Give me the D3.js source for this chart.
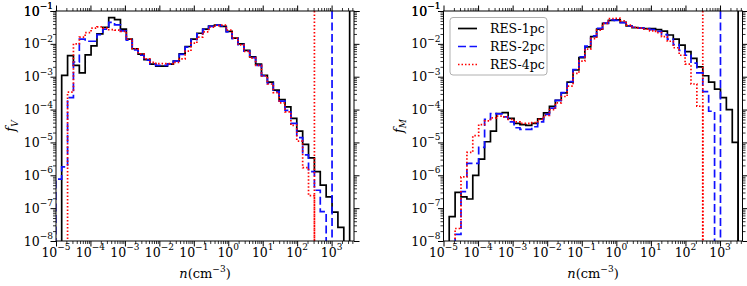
<!DOCTYPE html>
<html>
<head>
<meta charset="utf-8">
<script src="https://cdn.jsdelivr.net/npm/d3@7"></script>
<style>
  body { margin: 0; background: #fff; }
  svg { display: block; }
  text { font-family: "DejaVu Serif", serif; fill: #000; }
</style>
</head>
<body>
<svg id="chart" width="747" height="286"></svg>
<script>
// histogram bin edges, log10(n / cm^-3)
const logNEdges = [-5.006, -4.835, -4.664, -4.494, -4.323, -4.153, -3.982, -3.811, -3.641, -3.470,
  -3.300, -3.129, -2.958, -2.788, -2.617, -2.447, -2.276, -2.105, -1.935, -1.764,
  -1.594, -1.423, -1.252, -1.082, -0.911, -0.741, -0.570, -0.399, -0.229, -0.058,
  0.112, 0.283, 0.454, 0.624, 0.795, 0.965, 1.136, 1.307, 1.477, 1.648,
  1.818, 1.989, 2.160, 2.330, 2.501, 2.671, 2.842, 3.013, 3.183, 3.354, 3.524];

const seriesNames = ["RES-1pc", "RES-2pc", "RES-4pc"];

// volume fraction per bin (null = empty bin)
const fvRes1 = [null, 1.1e-3, 4.4e-3, 2.2e-3, 1.3e-3, 4.6e-3, 8.7e-3, 2.0e-2, 3.2e-2, 6.3e-2,
  5.5e-2, 2.8e-2, 1.4e-2, 7.1e-3, 4.9e-3, 3.3e-3, 2.4e-3, 2.1e-3, 2.1e-3, 2.4e-3,
  3.0e-3, 5.0e-3, 8.3e-3, 1.4e-2, 2.1e-2, 2.8e-2, 3.5e-2, 3.7e-2, 3.4e-2, 2.4e-2,
  1.5e-2, 1.0e-2, 6.3e-3, 4.0e-3, 2.4e-3, 1.1e-3, 6.8e-4, 3.9e-4, 2.0e-4, 1.2e-4,
  5.4e-5, 2.2e-5, 8.7e-6, 3.4e-6, 1.3e-6, 5.0e-7, 2.2e-7, 7.6e-8, 2.6e-8, null];
const fvRes2 = [7.6e-7, 1.8e-6, 2.3e-4, 2.8e-3, 1.4e-2, 1.2e-2, 1.2e-2, 1.9e-2, 2.8e-2, 4.5e-2,
  3.8e-2, 2.5e-2, 1.3e-2, 6.6e-3, 4.5e-3, 3.2e-3, 2.4e-3, 2.2e-3, 2.2e-3, 2.4e-3,
  3.0e-3, 4.8e-3, 7.9e-3, 1.35e-2, 2.0e-2, 2.75e-2, 3.4e-2, 3.7e-2, 3.5e-2, 2.3e-2,
  1.45e-2, 9.5e-3, 6.0e-3, 3.8e-3, 2.2e-3, 1.07e-3, 6.3e-4, 3.5e-4, 1.8e-4, 9.5e-5,
  3.8e-5, 1.4e-5, 4.2e-6, 1.3e-6, 3.5e-7, 7.8e-8, null, null, null, null];
const fvRes4 = [null, null, 3.4e-4, 1.0e-2, 1.6e-2, 2.2e-2, 3.0e-2, 3.3e-2, 3.0e-2, 2.7e-2,
  2.6e-2, 2.4e-2, 1.4e-2, 7.1e-3, 5.0e-3, 3.5e-3, 2.75e-3, 2.5e-3, 2.5e-3, 2.5e-3,
  2.75e-3, 3.5e-3, 6.0e-3, 1.05e-2, 1.6e-2, 2.3e-2, 3.2e-2, 3.6e-2, 3.7e-2, 2.6e-2,
  1.5e-2, 9.3e-3, 5.9e-3, 3.7e-3, 2.2e-3, 1.05e-3, 6.0e-4, 3.3e-4, 1.6e-4, 8.5e-5,
  3.3e-5, 1.1e-5, 1.7e-6, 2.4e-7, null, null, null, null, null, null];

// mass fraction per bin
const fmRes1 = [null, 5.5e-8, 3.0e-7, 2.2e-7, 1.9e-7, 1.0e-6, 3.1e-6, 1.05e-5, 2.2e-5, 7.6e-5,
  8.1e-5, 5.4e-5, 3.8e-5, 3.5e-5, 3.3e-5, 3.8e-5, 5.2e-5, 7.9e-5, 1.26e-4, 1.9e-4,
  3.2e-4, 6.8e-4, 1.6e-3, 3.8e-3, 8.1e-3, 1.66e-2, 2.8e-2, 4.2e-2, 5.2e-2, 5.4e-2,
  4.5e-2, 3.5e-2, 3.1e-2, 3.0e-2, 2.9e-2, 2.9e-2, 2.7e-2, 2.45e-2, 1.86e-2, 1.4e-2,
  9.1e-3, 5.8e-3, 3.6e-3, 2.0e-3, 1.07e-3, 6.8e-4, 4.2e-4, 2.3e-4, 1.0e-4, 1.0e-5];
const fmRes2 = [null, null, 1.6e-8, 3.2e-7, 2.3e-6, 2.3e-6, 7.1e-6, 5.0e-5, 7.6e-5, 7.4e-5,
  6.0e-5, 4.2e-5, 2.8e-5, 2.5e-5, 2.5e-5, 3.0e-5, 4.2e-5, 7.1e-5, 1.1e-4, 1.9e-4,
  3.3e-4, 7.1e-4, 1.66e-3, 4.0e-3, 8.5e-3, 1.74e-2, 2.95e-2, 4.3e-2, 5.4e-2, 5.2e-2,
  4.4e-2, 3.5e-2, 3.2e-2, 3.0e-2, 2.9e-2, 2.7e-2, 2.4e-2, 1.9e-2, 1.4e-2, 9.5e-3,
  6.3e-3, 4.5e-3, 2.6e-3, 1.3e-3, 3.5e-4, 8.9e-5, null, null, null, null];
const fmRes4 = [null, null, 2.4e-8, 8.9e-7, 5.0e-6, 1.6e-5, 3.5e-5, 4.5e-5, 5.6e-5, 6.3e-5,
  6.0e-5, 5.0e-5, 4.2e-5, 3.8e-5, 3.8e-5, 4.0e-5, 5.0e-5, 6.6e-5, 1.0e-4, 1.6e-4,
  2.5e-4, 5.2e-4, 1.26e-3, 3.0e-3, 6.9e-3, 1.45e-2, 2.6e-2, 4.2e-2, 5.9e-2, 6.0e-2,
  5.0e-2, 3.7e-2, 3.2e-2, 3.0e-2, 2.8e-2, 2.5e-2, 2.2e-2, 1.66e-2, 1.2e-2, 7.6e-3,
  4.5e-3, 2.4e-3, 6.0e-4, 1.26e-4, null, null, null, null, null, null];

// maximum density of each run (vertical lines)
const nMax = [3340, 1030, 317];

// tick exponents
const xTickExp = [-5, -4, -3, -2, -1, 0, 1, 2, 3];
const yTickExp = [-8, -7, -6, -5, -4, -3, -2, -1];

const styles = [
  { color: "#000", dash: null },
  { color: "#1010ff", dash: "8,3.5" },
  { color: "#ff0000", dash: "1.5,2" }
];

const svg = d3.select("#chart");
const yTop = 11, yBot = 241;
const minus = "\u2212";

const panels = [
  { x0: 56, x1: 354, sub: "V", series: [fvRes1, fvRes2, fvRes4], legend: false },
  { x0: 443.5, x1: 742.5, sub: "M", series: [fmRes1, fmRes2, fmRes4], legend: true }
];

function powLabel(sel, exp) {
  sel.append("tspan").text("10");
  sel.append("tspan").attr("dy", -6.5).style("font-size", "9px")
    .text(exp < 0 ? minus + Math.abs(exp) : exp);
}

panels.forEach((p, pi) => {
  const x = d3.scaleLog().domain([1e-5, Math.pow(10, 3.65)]).range([p.x0, p.x1]);
  const y = d3.scaleLog().domain([1e-8, 1e-1]).range([yBot, yTop]).clamp(true);

  const g = svg.append("g");

  const clipId = "clip" + pi;
  svg.append("clipPath").attr("id", clipId)
    .append("rect").attr("x", p.x0).attr("y", yTop)
    .attr("width", p.x1 - p.x0).attr("height", yBot - yTop);

  const minorX = x.ticks().filter(v => !xTickExp.some(e => Math.abs(Math.log10(v) - e) < 1e-6));
  const minorY = y.ticks().filter(v => !yTickExp.some(e => Math.abs(Math.log10(v) - e) < 1e-6));

  const majorXV = xTickExp.map(e => Math.pow(10, e));
  const majorYV = yTickExp.map(e => Math.pow(10, e)).concat([1e-1]);

  // axes: major + minor ticks on all four sides, pointing outward
  const axes = [
    [d3.axisBottom, x, `translate(0,${yBot})`, majorXV, minorX],
    [d3.axisTop, x, `translate(0,${yTop})`, majorXV, minorX],
    [d3.axisLeft, y, `translate(${p.x0},0)`, majorYV, minorY],
    [d3.axisRight, y, `translate(${p.x1},0)`, majorYV, minorY]
  ];
  axes.forEach(([fn, sc, tr, maj, mnr]) => {
    g.append("g").attr("transform", tr)
      .call(fn(sc).tickValues(maj).tickSize(5.5).tickSizeOuter(0).tickFormat(""))
      .call(a => a.select(".domain").remove())
      .call(a => a.selectAll("line").attr("stroke", "#000").attr("stroke-width", 1));
    g.append("g").attr("transform", tr)
      .call(fn(sc).tickValues(mnr).tickSize(3).tickSizeOuter(0).tickFormat(""))
      .call(a => a.select(".domain").remove())
      .call(a => a.selectAll("line").attr("stroke", "#000").attr("stroke-width", 0.8));
  });

  // tick labels
  xTickExp.forEach(e => {
    g.append("text").attr("x", x(Math.pow(10, e))).attr("y", 256.5)
      .attr("text-anchor", "middle").style("font-size", "12.5px")
      .call(powLabel, e);
  });
  yTickExp.concat([-1]).forEach(e => {
    g.append("text").attr("x", p.x0 - 3).attr("y", y(Math.pow(10, e)) + 4.5)
      .attr("text-anchor", "end").style("font-size", "12.5px")
      .call(powLabel, e);
  });

  // axis titles
  const xt = g.append("text").attr("x", (p.x0 + p.x1) / 2).attr("y", 277.5)
    .attr("text-anchor", "middle").style("font-size", "13px");
  xt.append("tspan").style("font-style", "italic").text("n");
  xt.append("tspan").text("(cm");
  xt.append("tspan").attr("dy", -6).style("font-size", "9px").text(minus + "3");
  xt.append("tspan").attr("dy", 6).text(")");

  const yt = g.append("text")
    .attr("transform", `translate(${p.x0 - 41},${(yTop + yBot) / 2}) rotate(-90)`)
    .attr("text-anchor", "middle").style("font-size", "13px");
  yt.append("tspan").style("font-style", "italic").text("f");
  yt.append("tspan").attr("dy", 3).style("font-style", "italic").style("font-size", "9px").text(p.sub);

  // histograms
  const plot = g.append("g").attr("clip-path", `url(#${clipId})`);
  p.series.forEach((vals, si) => {
    const first = vals.findIndex(v => v != null);
    let last = vals.length - 1;
    while (vals[last] == null) last--;
    const ex = i => x(Math.pow(10, logNEdges[i]));
    const pts = [[ex(first), yBot + 5]];
    for (let i = first; i <= last; i++) {
      const yy = vals[i] == null ? yBot + 5 : y(vals[i]);
      pts.push([ex(i), yy], [ex(i + 1), yy]);
    }
    pts.push([ex(last + 1), yBot + 5]);
    const st = styles[si];
    plot.append("path")
      .attr("d", d3.line()(pts))
      .attr("fill", "none")
      .attr("stroke", st.color)
      .attr("stroke-width", 1.7)
      .attr("stroke-dasharray", st.dash);
    plot.append("line")
      .attr("x1", x(nMax[si])).attr("x2", x(nMax[si]))
      .attr("y1", yTop).attr("y2", yBot)
      .attr("stroke", st.color)
      .attr("stroke-width", 1.7)
      .attr("stroke-dasharray", st.dash);
  });

  // frame
  g.append("rect").attr("x", p.x0).attr("y", yTop)
    .attr("width", p.x1 - p.x0).attr("height", yBot - yTop)
    .attr("fill", "none").attr("stroke", "#000").attr("stroke-width", 1);

  if (p.legend) {
    const lg = g.append("g").attr("transform", `translate(${p.x0 + 6.5},17.5)`);
    lg.append("rect").attr("width", 97).attr("height", 57.5).attr("rx", 3)
      .attr("fill", "#fff").attr("stroke", "#b0b0b0").attr("stroke-width", 1);
    seriesNames.forEach((name, i) => {
      const ly = 11 + i * 18;
      lg.append("line").attr("x1", 8).attr("x2", 27).attr("y1", ly).attr("y2", ly)
        .attr("stroke", styles[i].color).attr("stroke-width", 1.7)
        .attr("stroke-dasharray", styles[i].dash);
      lg.append("text").attr("x", 40).attr("y", ly + 4.5)
        .style("font-size", "12.5px").text(name);
    });
  }
});
</script>
</body>
</html>
